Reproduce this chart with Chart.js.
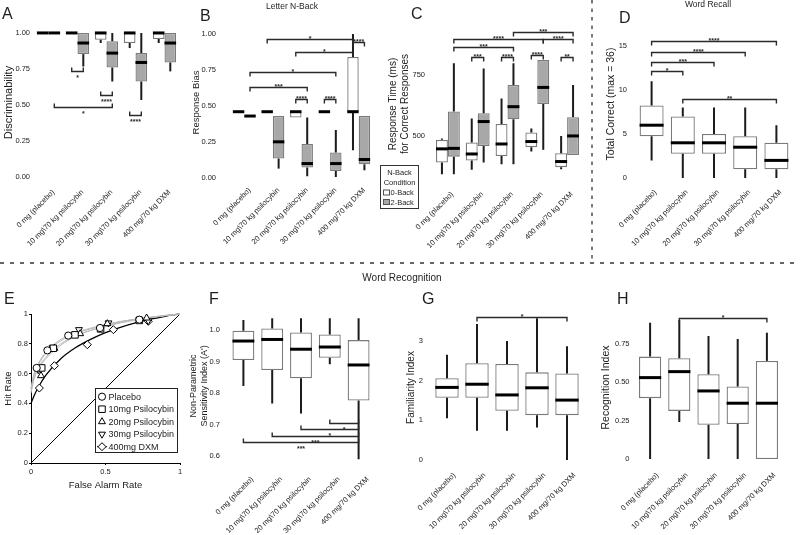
<!DOCTYPE html>
<html>
<head>
<meta charset="utf-8">
<script src="https://cdn.jsdelivr.net/npm/chart.js@4.4.1/dist/chart.umd.min.js"></script>
<style>
  html, body { margin: 0; padding: 0; background: #fff; }
  #fig { position: relative; width: 800px; height: 535px; overflow: hidden;
         font-family: "Liberation Sans", Arial, sans-serif; color: #1e1e1e; }
  #fig canvas { position: absolute; }
  .lbl { position: absolute; line-height: 1; white-space: nowrap; }
  .panel { font-size: 16px; }
  .ttl { transform: translateX(-50%); }
</style>
</head>
<body>
<div id="fig">
  <canvas id="cA" width="190" height="250" style="left:0;top:0"></canvas>
  <canvas id="cB" width="185" height="250" style="left:190px;top:0"></canvas>
  <canvas id="cC" width="220" height="250" style="left:375px;top:0"></canvas>
  <canvas id="cD" width="205" height="250" style="left:595px;top:0"></canvas>
  <canvas id="cE" width="190" height="210" style="left:0;top:290px"></canvas>
  <canvas id="cF" width="197" height="245" style="left:188px;top:290px"></canvas>
  <canvas id="cG" width="210" height="245" style="left:385px;top:290px"></canvas>
  <canvas id="cH" width="205" height="245" style="left:595px;top:290px"></canvas>

  <svg width="800" height="535" style="position:absolute;left:0;top:0;pointer-events:none">
    <line x1="0" y1="263" x2="800" y2="263" stroke="#333" stroke-width="1.3" stroke-dasharray="4 6"/>
    <line x1="592" y1="0" x2="592" y2="263" stroke="#333" stroke-width="1.3" stroke-dasharray="3.5 5"/>
  </svg>

  <div class="lbl panel" style="left:2px;top:6px">A</div>
  <div class="lbl panel" style="left:200px;top:8px">B</div>
  <div class="lbl panel" style="left:411px;top:6px">C</div>
  <div class="lbl panel" style="left:619px;top:10px">D</div>
  <div class="lbl panel" style="left:4px;top:291px">E</div>
  <div class="lbl panel" style="left:209px;top:291px">F</div>
  <div class="lbl panel" style="left:422px;top:291px">G</div>
  <div class="lbl panel" style="left:617px;top:291px">H</div>

  <div class="lbl ttl" style="left:292px;top:2px;font-size:8.5px">Letter N-Back</div>
  <div class="lbl ttl" style="left:708px;top:0px;font-size:8.5px">Word Recall</div>
  <div class="lbl ttl" style="left:402px;top:273px;font-size:10px">Word Recognition</div>
</div>

<script>
// ---- data -------------------------------------------------------------
const doses = ['0 mg (placebo)', '10 mg\\70 kg psilocybin', '20 mg\\70 kg psilocybin',
               '30 mg\\70 kg psilocybin', '400 mg/70 kg DXM'];
const nBackSets = ['0-Back', '2-Back'];
const nBackLegendTitle = ['N-Back', 'Condition'];

// box stats per dose: [min, q1, median, q3, max]
const discrim0Back = [[1, 1, 1, 1, 1], [1, 1, 1, 1, 1], [0.93, 0.953, 1, 1, 1], [0.895, 0.93, 1, 1, 1], [0.93, 0.958, 1, 1, 1]];
const discrim2Back = [[1, 1, 1, 1, 1], [0.767, 0.853, 0.93, 1, 1], [0.663, 0.76, 0.86, 0.942, 1], [0.535, 0.663, 0.795, 0.86, 1], [0.733, 0.795, 0.93, 1, 1]];
const bias0Back = [[0.46, 0.46, 0.46, 0.46, 0.46], [0.46, 0.46, 0.46, 0.46, 0.46], [0.42, 0.42, 0.46, 0.46, 0.46], [0.46, 0.46, 0.46, 0.46, 0.46], [0.193, 0.46, 0.46, 0.84, 1]];
const bias2Back = [[0.43, 0.43, 0.43, 0.43, 0.43], [0.065, 0.135, 0.251, 0.43, 0.43], [0.012, 0.072, 0.1, 0.235, 0.42], [0.007, 0.049, 0.1, 0.177, 0.333], [0.053, 0.095, 0.128, 0.43, 0.43]];
const rt0Back = [[343, 391, 447, 484, 490], [361, 399, 426, 473, 572], [384, 418, 467, 549, 654], [436, 454, 477, 514, 531], [363, 372, 395, 429, 500]];
const rt2Back = [[343, 415, 449, 600, 798], [391, 459, 559, 593, 777], [384, 568, 620, 709, 798], [443, 631, 699, 811, 811], [422, 422, 500, 577, 709]];
const recallTotal = [[2, 4.75, 6, 8.25, 11], [0, 2.75, 4, 7, 8], [0, 2.75, 4, 5, 8], [0, 1, 3.5, 4.75, 8], [0, 1, 2, 4, 6]];
const sensitivityA = [[0.822, 0.905, 0.965, 0.998, 1.032], [0.767, 0.873, 0.97, 1.005, 1.037], [0.735, 0.847, 0.939, 0.992, 1.037], [0.891, 0.912, 0.946, 0.986, 1.037], [0.59, 0.776, 0.889, 0.968, 1.037]];
const familiarity = [[1.05, 1.57, 1.83, 2.06, 2.65], [0.74, 1.57, 1.91, 2.44, 3.43], [0.74, 1.24, 1.64, 2.42, 3.0], [0.82, 1.13, 1.82, 2.21, 3.57], [0, 1.13, 1.51, 2.18, 2.87]];
const recognition = [[0, 0.397, 0.531, 0.668, 0.889], [0.241, 0.314, 0.57, 0.657, 0.906], [0, 0.223, 0.444, 0.553, 0.802], [0, 0.228, 0.364, 0.473, 0.783], [0, 0, 0.364, 0.64, 0.824]];

// significance brackets: [fromDose, fromSet, toDose, toSet, yValue, stars]
const discrimSig = [[1, 0, 1, 1, 0.733, '*'], [2, 0, 2, 1, 0.57, '****'], [3, 0, 3, 1, 0.43, '****'], [0, 1, 2, 1, 0.488, '*']];
const biasSig = [[2, 0, 2, 1, 0.549, '****'], [3, 0, 3, 1, 0.549, '****'], [4, 0, 4, 1, 0.944, '****'],
                 [0, 1, 2, 1, 0.63, '***'], [0, 1, 3, 1, 0.733, '*'], [2, 0, 4, 0, 0.874, '*'], [1, 0, 4, 0, 0.963, '*']];
const rtSig = [[1, 0, 1, 1, 825, '***'], [2, 0, 2, 1, 825, '****'], [3, 0, 3, 1, 834, '****'], [4, 0, 4, 1, 825, '**'],
               [0, 1, 2, 1, 863, '***'], [0, 1, 3, 1, 896, '****'], [3, 1, 4, 1, 896, '****'], [2, 1, 4, 1, 928, '***']];
const recallSig = [[0, 0, 1, 0, 12.2, '*'], [0, 0, 2, 0, 13.2, '***'], [0, 0, 3, 0, 14.3, '****'], [0, 0, 4, 0, 15.6, '****'], [1, 0, 4, 0, 9.0, '**']];
const sensitivitySig = [[3, 0, 4, 0, 0.704, '*'], [2, 0, 4, 0, 0.685, '*'], [1, 0, 4, 0, 0.664, '***'], [0, 0, 4, 0, 0.644, '***']];
const familiaritySig = [[1, 0, 4, 0, 3.6, '*']];
const recognitionSig = [[1, 0, 4, 0, 0.917, '*']];

// tick values + their printed text
const unitTicks = [0, 0.25, 0.5, 0.75, 1];
const unitTickText = ['0.00', '0.25', '0.50', '0.75', '1.00'];
const rtTicks = [500, 750];
const rtTickText = ['500', '750'];
const recallTicks = [0, 5, 10, 15];
const recallTickText = ['0', '5', '10', '15'];
const sensTicks = [0.6, 0.7, 0.8, 0.9, 1.0];
const sensTickText = ['0.6', '0.7', '0.8', '0.9', '1.0'];
const famTicks = [0, 1, 2, 3];
const famTickText = ['0', '1', '2', '3'];
const recogTicks = [0, 0.25, 0.5, 0.75];
const recogTickText = ['0', '0.25', '0.50', '0.75'];

// word recognition ROC (panel E)
const rocLabels = ['Placebo', '10mg Psilocybin', '20mg Psilocybin', '30mg Psilocybin', '400mg DXM'];
const rocFalseAlarm = [[0.038, 0.11, 0.25, 0.463, 0.727], [0.072, 0.15, 0.295, 0.467, 0.727], [0.067, 0.157, 0.33, 0.512, 0.776],
                       [0.049, 0.145, 0.322, 0.52, 0.787], [0.056, 0.157, 0.378, 0.553, 0.787]];
const rocHit = [[0.638, 0.756, 0.855, 0.906, 0.962], [0.638, 0.77, 0.86, 0.90, 0.957], [0.586, 0.77, 0.868, 0.935, 0.973],
                [0.626, 0.776, 0.895, 0.94, 0.955], [0.503, 0.653, 0.794, 0.895, 0.951]];
const fitFalseAlarm = [0, 0.02, 0.05, 0.1, 0.2, 0.3, 0.4, 0.5, 0.6, 0.7, 0.8, 0.9, 1];
const fitHit = [
  [0.50, 0.60, 0.67, 0.745, 0.83, 0.875, 0.905, 0.93, 0.95, 0.965, 0.978, 0.99, 1],
  [0.48, 0.57, 0.64, 0.71, 0.80, 0.855, 0.89, 0.915, 0.94, 0.958, 0.973, 0.988, 1],
  [0.47, 0.56, 0.63, 0.70, 0.79, 0.85, 0.89, 0.92, 0.945, 0.962, 0.977, 0.99, 1],
  [0.50, 0.59, 0.66, 0.735, 0.82, 0.87, 0.90, 0.925, 0.948, 0.965, 0.978, 0.99, 1],
  [0.40, 0.45, 0.51, 0.59, 0.70, 0.775, 0.83, 0.875, 0.91, 0.94, 0.965, 0.985, 1]];
const chanceLine = [0, 1];
const rocXTicks = [0, 0.5, 1];
const rocXTickText = ['0', '0.5', '1'];
const rocYTicks = [0, 0.2, 0.4, 0.6, 0.8, 1];
const rocYTickText = ['0', '0.2', '0.4', '0.6', '0.8', '1'];

// ---- plugins ----------------------------------------------------------
Chart.defaults.font.family = '"Liberation Sans", Arial, sans-serif';
Chart.defaults.color = '#222';

// whiskers + medians on top of the floating-bar boxes
const boxPlugin = {
  id: 'boxes',
  afterDatasetsDraw(chart) {
    const ctx = chart.ctx, ys = chart.scales.y;
    chart.data.datasets.forEach((ds, di) => {
      chart.getDatasetMeta(di).data.forEach((bar, i) => {
        const [mn, q1, md, q3, mx] = ds.stats[i];
        const x = bar.x, hw = bar.width / 2;
        ctx.save();
        ctx.strokeStyle = '#1c1c1c';
        ctx.lineWidth = 2;
        ctx.beginPath();
        ctx.moveTo(x, ys.getPixelForValue(q3)); ctx.lineTo(x, ys.getPixelForValue(mx));
        ctx.moveTo(x, ys.getPixelForValue(q1)); ctx.lineTo(x, ys.getPixelForValue(mn));
        ctx.stroke();
        ctx.lineWidth = 3;
        ctx.strokeStyle = '#000';
        const ym = ys.getPixelForValue(md);
        ctx.beginPath(); ctx.moveTo(x - hw, ym); ctx.lineTo(x + hw, ym); ctx.stroke();
        ctx.restore();
      });
    });
  }
};

// significance brackets with stars
const bracketPlugin = {
  id: 'brackets',
  afterDraw(chart) {
    const first = chart.data.datasets[0];
    if (!first.brackets) return;
    const ctx = chart.ctx, ys = chart.scales.y;
    const s = first.bracketDir === 'down' ? 1 : -1;
    ctx.save();
    ctx.strokeStyle = '#2a2a2a';
    ctx.fillStyle = '#2a2a2a';
    ctx.lineWidth = 1.4;
    ctx.font = 'bold 7px "Liberation Sans", Arial, sans-serif';
    ctx.textAlign = 'center';
    ctx.textBaseline = 'alphabetic';
    first.brackets.forEach(([d1, s1, d2, s2, v, txt]) => {
      const x1 = chart.getDatasetMeta(s1).data[d1].x;
      const x2 = chart.getDatasetMeta(s2).data[d2].x;
      const y = Math.round(ys.getPixelForValue(v)) + 0.5;
      ctx.beginPath();
      ctx.moveTo(x1, y + 4 * s); ctx.lineTo(x1, y); ctx.lineTo(x2, y); ctx.lineTo(x2, y + 4 * s);
      ctx.stroke();
      ctx.fillText(txt, (x1 + x2) / 2, s > 0 ? y + 1.5 : y + 8.5);
    });
    ctx.restore();
  }
};

// boxed "N-Back Condition" key, sits left of panel C's axis
const nBackLegend = {
  id: 'nBackLegend',
  afterDraw(chart) {
    const ctx = chart.ctx, a = chart.chartArea;
    const w = 38, h = 43, x0 = a.left - 53, y0 = a.bottom - 18;
    ctx.save();
    ctx.fillStyle = '#fff';
    ctx.fillRect(x0, y0, w, h);
    ctx.strokeStyle = '#333';
    ctx.lineWidth = 1;
    ctx.strokeRect(x0 + 0.5, y0 + 0.5, w, h);
    ctx.font = '7.5px "Liberation Sans", Arial, sans-serif';
    ctx.textBaseline = 'middle';
    ctx.textAlign = 'center';
    ctx.fillStyle = '#222';
    nBackLegendTitle.forEach((t, i) => ctx.fillText(t, x0 + w / 2 + 0.5, y0 + 7.5 + i * 10));
    ctx.textAlign = 'left';
    chart.data.datasets.forEach((d, i) => {
      const cy = y0 + 27.5 + i * 9.5;
      ctx.fillStyle = d.backgroundColor;
      ctx.fillRect(x0 + 3.5, cy - 2.5, 6, 5);
      ctx.strokeStyle = '#555';
      ctx.strokeRect(x0 + 3.5, cy - 2.5, 6, 5);
      ctx.fillStyle = '#222';
      ctx.fillText(d.label, x0 + 10.5, cy + 0.5);
    });
    ctx.restore();
  }
};

function boxChart(id, o) {
  const fills = ['#ffffff', '#a8a8a8'];
  const datasets = o.sets.map((stats, k) => ({
    label: nBackSets[k],
    data: stats.map(s => [s[1], s[3]]),
    stats,
    backgroundColor: fills[k],
    borderColor: '#7a7a7a',
    borderWidth: 1.3,
    borderSkipped: false,
    categoryPercentage: o.cat,
    barPercentage: 1
  }));
  datasets[0].brackets = o.sig;
  datasets[0].bracketDir = o.dir;
  return new Chart(document.getElementById(id), {
    type: 'bar',
    data: { labels: doses, datasets },
    options: {
      responsive: false,
      animation: false,
      layout: { padding: { top: o.padTop, right: o.padRight, left: 0, bottom: 0 } },
      plugins: { legend: { display: false }, tooltip: { enabled: false } },
      scales: {
        x: {
          grid: { display: false, drawTicks: false },
          border: { display: false },
          ticks: { minRotation: 45, maxRotation: 45, autoSkip: false, padding: o.xPad,
                   labelOffset: o.xOff, font: { size: 7.5 }, color: '#222' },
          afterFit: s => { s.height = o.xh; }
        },
        y: {
          min: o.min, max: o.max,
          grid: { display: false, drawTicks: false },
          border: { display: false },
          ticks: { padding: o.yPad, font: { size: 7.5 }, color: '#222',
                   callback: (v, i) => o.tickText[i] },
          afterBuildTicks: s => { s.ticks = o.ticks.map(v => ({ value: v })); },
          title: { display: true, text: o.title, color: '#222', font: { size: o.tSize },
                   padding: { top: o.tPad, bottom: 0 } },
          afterFit: s => { s.width = o.yw; }
        }
      }
    },
    plugins: [boxPlugin, bracketPlugin].concat(o.extra || [])
  });
}

// ---- panels A-D -------------------------------------------------------
boxChart('cA', { sets: [discrim0Back, discrim2Back], sig: discrimSig, dir: 'up', cat: 0.8,
  min: -0.042, max: 1.076, ticks: unitTicks, tickText: unitTickText,
  title: 'Discriminability', tSize: 11, tPad: 2, yw: 34, yPad: 4,
  padTop: 22, padRight: 11, xh: 67, xPad: 5, xOff: 5 });

boxChart('cB', { sets: [bias0Back, bias2Back], sig: biasSig, dir: 'down', cat: 0.8,
  min: -0.035, max: 1.083, ticks: unitTicks, tickText: unitTickText,
  title: 'Response Bias', tSize: 9.5, tPad: 0.5, yw: 40, yPad: 14,
  padTop: 22, padRight: 2, xh: 67, xPad: 3, xOff: 5.5 });

boxChart('cC', { sets: [rt0Back, rt2Back], sig: rtSig, dir: 'down', cat: 0.8,
  min: 307, max: 955, ticks: rtTicks, tickText: rtTickText,
  title: ['Response Time (ms)', 'for Correct Responses'], tSize: 10, tPad: 12, yw: 58, yPad: 8,
  padTop: 25, padRight: 13, xh: 67, xPad: 7, xOff: 4.5, extra: [nBackLegend] });

boxChart('cD', { sets: [recallTotal], sig: recallSig, dir: 'down', cat: 0.77,
  min: -0.57, max: 17.39, ticks: recallTicks, tickText: recallTickText,
  title: 'Total Correct (max = 36)', tSize: 10.5, tPad: 9.5, yw: 41, yPad: 9,
  padTop: 25, padRight: 8, xh: 67, xPad: 5, xOff: 4 });

// ---- panels F-H -------------------------------------------------------
boxChart('cF', { sets: [sensitivityA], sig: sensitivitySig, dir: 'up', cat: 0.76,
  min: 0.581, max: 1.0635, ticks: sensTicks, tickText: sensTickText,
  title: ['Non-Parametric', "Sensitivity Index (A')"], tSize: 9, tPad: 0, yw: 41, yPad: 9,
  padTop: 20, padRight: 12, xh: 73, xPad: 13, xOff: 9 });

boxChart('cG', { sets: [familiarity], sig: familiaritySig, dir: 'down', cat: 0.78,
  min: -0.126, max: 3.781, ticks: famTicks, tickText: famTickText,
  title: 'Familiarity Index', tSize: 10, tPad: 20, yw: 47, yPad: 9,
  padTop: 20, padRight: 13, xh: 70, xPad: 6, xOff: 7.5 });

boxChart('cH', { sets: [recognition], sig: recognitionSig, dir: 'down', cat: 0.76,
  min: -0.039, max: 0.972, ticks: recogTicks, tickText: recogTickText,
  title: 'Recognition Index', tSize: 10.5, tPad: 4.5, yw: 40.5, yPad: 6,
  padTop: 20, padRight: 18.5, xh: 70, xPad: 6, xOff: 7.5 });

// ---- panel E: ROC -----------------------------------------------------
const rocStyles = ['circle', 'rect', 'triangle', 'triangle', 'rectRot'];
const rocRot = [0, 0, 0, 180, 0];
const rocRadius = [3.6, 4.6, 4, 4, 4];

const rocLegend = {
  id: 'rocLegend',
  afterDraw(chart) {
    const ctx = chart.ctx, a = chart.chartArea;
    const items = chart.data.datasets.filter(d => d.inLegend);
    const w = 82, h = 64, x0 = a.right - 3 - w, y0 = a.bottom - 11 - h;
    ctx.save();
    ctx.fillStyle = '#fff';
    ctx.fillRect(x0, y0, w, h);
    ctx.strokeStyle = '#222';
    ctx.lineWidth = 1;
    ctx.strokeRect(x0 + 0.5, y0 + 0.5, w, h);
    ctx.font = '9px "Liberation Sans", Arial, sans-serif';
    ctx.textBaseline = 'middle';
    items.forEach((d, i) => {
      const cy = y0 + 8.7 + i * 12.5;
      ctx.strokeStyle = '#000';
      if (d.legendLine) {
        ctx.beginPath(); ctx.moveTo(x0 + 2, cy); ctx.lineTo(x0 + 12, cy); ctx.stroke();
      }
      ctx.fillStyle = '#fff';
      Chart.helpers.drawPoint(ctx, { pointStyle: d.pointStyle, radius: d.pointRadius,
        rotation: d.pointRotation, borderWidth: 1 }, x0 + 7, cy);
      ctx.fillStyle = '#222';
      ctx.fillText(d.label, x0 + 13.5, cy + 0.5);
    });
    ctx.restore();
  }
};

const markerSets = rocLabels.map((label, k) => ({
  label,
  inLegend: true,
  legendLine: k === 4,
  data: rocFalseAlarm[k].map((x, i) => ({ x, y: rocHit[k][i] })),
  showLine: false,
  pointStyle: rocStyles[k],
  pointRotation: rocRot[k],
  pointRadius: rocRadius[k],
  pointBackgroundColor: '#fff',
  pointBorderColor: '#000',
  pointBorderWidth: 1,
  clip: false
}));
const fitSets = rocLabels.map((label, k) => ({
  data: fitFalseAlarm.map((x, i) => ({ x, y: fitHit[k][i] })),
  showLine: true,
  pointRadius: 0,
  borderColor: k === 4 ? '#000' : '#b9b9b9',
  borderWidth: k === 4 ? 1.3 : 1,
  cubicInterpolationMode: 'monotone',
  clip: false
}));
const chanceSet = {
  data: chanceLine.map(v => ({ x: v, y: v })),
  showLine: true, pointRadius: 0, borderColor: '#000', borderWidth: 1
};

new Chart(document.getElementById('cE'), {
  type: 'scatter',
  data: { datasets: [...markerSets, ...fitSets, chanceSet] },
  options: {
    responsive: false,
    animation: false,
    layout: { padding: { top: 24, right: 10, left: 0, bottom: 0 } },
    plugins: { legend: { display: false }, tooltip: { enabled: false } },
    scales: {
      x: {
        type: 'linear', min: 0, max: 1,
        border: { display: true, color: '#000', width: 1 },
        grid: { display: true, drawOnChartArea: false, drawTicks: true, tickLength: 2, color: '#000' },
        ticks: { padding: 2, font: { size: 7.5 }, color: '#222', callback: (v, i) => rocXTickText[i] },
        afterBuildTicks: s => { s.ticks = rocXTicks.map(v => ({ value: v })); },
        title: { display: true, text: 'False Alarm Rate', color: '#222', font: { size: 9.5 },
                 padding: { top: 0, bottom: 9 } },
        afterFit: s => { s.height = 37; }
      },
      y: {
        type: 'linear', min: 0, max: 1,
        border: { display: true, color: '#000', width: 1 },
        grid: { display: true, drawOnChartArea: false, drawTicks: true, tickLength: 2, color: '#000' },
        ticks: { padding: 1, font: { size: 7.5 }, color: '#222', callback: (v, i) => rocYTickText[i] },
        afterBuildTicks: s => { s.ticks = rocYTicks.map(v => ({ value: v })); },
        title: { display: true, text: 'Hit Rate', color: '#222', font: { size: 9.5 },
                 padding: { top: 3, bottom: 0 } },
        afterFit: s => { s.width = 31; }
      }
    }
  },
  plugins: [rocLegend]
});
</script>
</body>
</html>
